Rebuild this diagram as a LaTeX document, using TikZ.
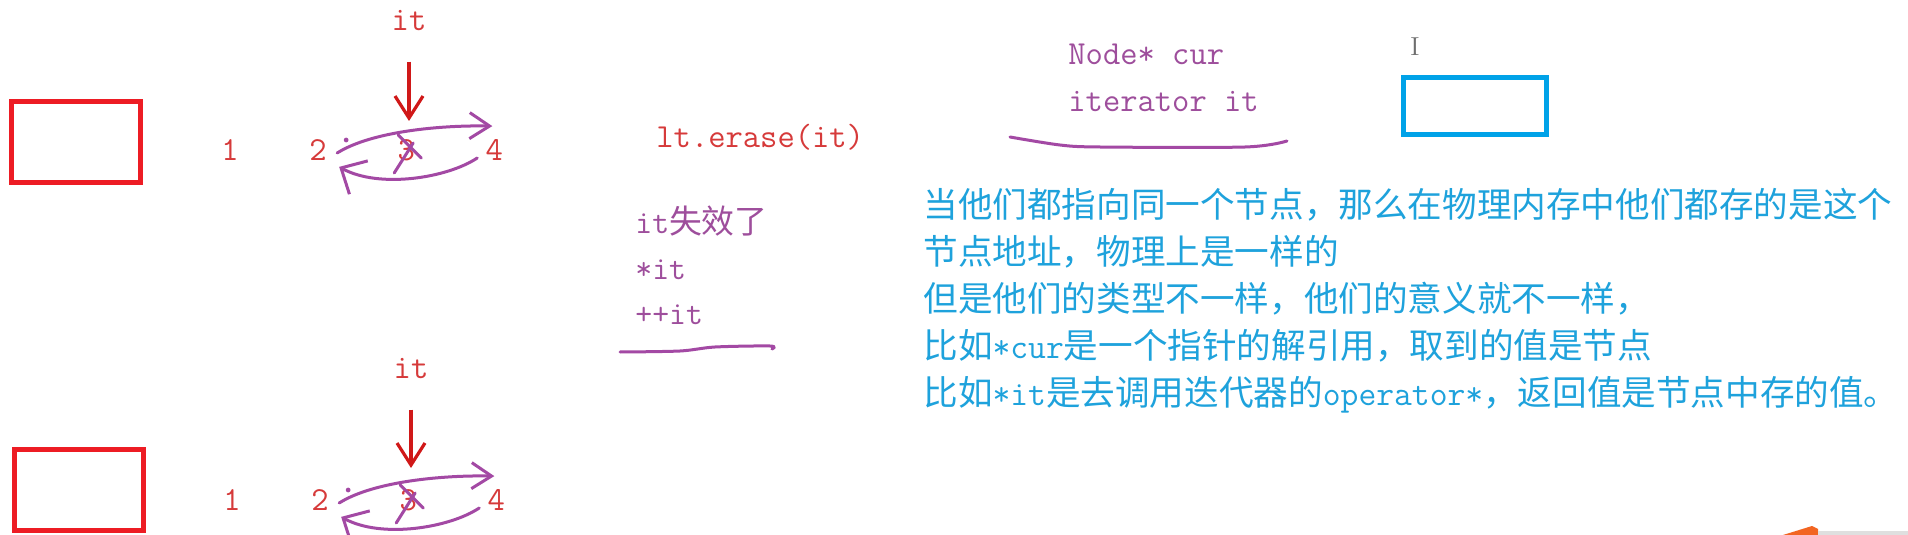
\documentclass[tikz,border=0pt]{standalone}
\usepackage{fontspec}
\newfontfamily\cjk{Noto Sans CJK SC}
\usetikzlibrary{arrows.meta, positioning, calc}
\definecolor{paintred}{HTML}{ED1C24}
\definecolor{paintblue}{HTML}{00A2E8}
\definecolor{penpurple}{HTML}{A349A4}
\definecolor{codered}{HTML}{D63A3A}
\definecolor{codepurple}{HTML}{9E4E9C}
\definecolor{noteblue}{HTML}{1EA2DC}
\definecolor{arrowred}{HTML}{D01818}
\definecolor{cursorgray}{HTML}{6E6E6E}
\definecolor{tiporange}{HTML}{F26522}

\begin{document}
\begin{tikzpicture}[
  x=0.5pt, y=-0.5pt,
  listbox/.style={
    rectangle, draw=#1, line width=2.5pt, inner sep=0pt,
    minimum width=64.5pt, minimum height=40.5pt,
  },
  listbox/.default={paintred},
  code/.style={font=\ttfamily\fontsize{16.8}{23.5}\selectfont, text=#1, inner sep=0pt, align=left},
  code/.default={codered},
  note/.style={font=\cjk\fontsize{17.3}{23.5}\selectfont, text=noteblue, inner sep=0pt, align=left},
  ptr/.style={draw=arrowred, line width=1.6pt, -{Straight Barb[length=11pt,width=14pt]}},
  jump/.style={draw=penpurple, line width=1.5pt, line cap=round, -{Straight Barb[length=10pt,width=13pt]}},
  back/.style={draw=penpurple, line width=1.5pt, line cap=round, -{Straight Barb[length=10pt,width=19pt]}},
  strike/.style={draw=penpurple, line width=1.5pt, line cap=round},
  node distance=35pt,
]

  \fill[white] (0,0) rectangle (1908,535);
  \useasboundingbox (0,0) rectangle (1908,535);

  % Upper list (it points at 3)
  \node[listbox] (headA) at (76,142) {};
  \node[code] (n1A) at (230,150) {1};
  \node[code, right=of n1A] (n2A) {2};
  \node[code, right=of n2A] (n3A) {3};
  \node[code, right=of n3A] (n4A) {4};
  \node[code] (itA) at (409,21) {it};
  \coordinate (hitA) at (409,121);
  \draw[ptr, shorten <=15pt] (itA) -- (hitA);

  \coordinate (upA0) at ($(n2A.east)+(10,3)$);
  \coordinate (upA1) at ($(n4A.north)+(-2,-13)$);
  \coordinate (dnA0) at ($(n4A.west)+(-8,8)$);
  \coordinate (dnA1) at ($(n2A.south east)+(12,6)$);
  \draw[jump] (upA0) .. controls ($(upA0)+(35,-22)$) and ($(upA1)+(-50,-1)$) .. (upA1);
  \draw[back] (dnA0) .. controls ($(dnA0)+(-30,20)$) and ($(dnA1)+(40,22)$) .. (dnA1);
  \draw[strike] ($(n3A)+(-8,-15)$) -- ($(n3A)+(15,8)$);
  \draw[strike] ($(n3A)+(7,-7)$) -- ($(n3A)+(-12,23)$);
  \fill[penpurple] ($(n2A.east)+(19,-10)$) circle (1.2pt);

  % Lower list (same picture again)
  \node[listbox] (headB) at (79,490) {};
  \node[code] (n1B) at (232,500) {1};
  \node[code, right=of n1B] (n2B) {2};
  \node[code, right=of n2B] (n3B) {3};
  \node[code, right=of n3B] (n4B) {4};
  \node[code] (itB) at (411,369) {it};
  \coordinate (hitB) at (411,468);
  \draw[ptr, shorten <=15pt] (itB) -- (hitB);

  \coordinate (upB0) at ($(n2B.east)+(10,3)$);
  \coordinate (upB1) at ($(n4B.north)+(-2,-13)$);
  \coordinate (dnB0) at ($(n4B.west)+(-8,8)$);
  \coordinate (dnB1) at ($(n2B.south east)+(12,6)$);
  \draw[jump] (upB0) .. controls ($(upB0)+(35,-22)$) and ($(upB1)+(-50,-1)$) .. (upB1);
  \draw[back] (dnB0) .. controls ($(dnB0)+(-30,20)$) and ($(dnB1)+(40,22)$) .. (dnB1);
  \draw[strike] ($(n3B)+(-8,-15)$) -- ($(n3B)+(15,8)$);
  \draw[strike] ($(n3B)+(7,-7)$) -- ($(n3B)+(-12,23)$);
  \fill[penpurple] ($(n2B.east)+(19,-10)$) circle (1.2pt);

  % erase and what breaks afterwards
  \node[code, anchor=north west] (erase) at (656,124) {lt.erase(it)};
  \node[code=codepurple, font=\cjk\fontsize{16.4}{22.6}\selectfont, anchor=north west] (invalid) at (635,206)
    {\texttt{it}失效了\\\texttt{*it}\\\texttt{++it}};
  \draw[strike] plot[smooth] coordinates {(620,352) (680,351) (715,347) (770,346) (772,349)};

  % two handles, one node
  \node[code=codepurple, anchor=north west] (handles) at (1068,44) {Node* cur\\iterator it};
  \draw[strike] plot[smooth] coordinates {(1010,137) (1060,145) (1100,147) (1245,147) (1287,141)};
  \node[text=cursorgray, font=\fontsize{13}{13}\selectfont, inner sep=0pt] (caret) at (1415,47) {I};
  \node[listbox=paintblue, minimum width=71.5pt, minimum height=28.5pt] (shared) at (1475,106) {};

  % explanation
  \node[note, anchor=north west] (why) at (923,188) {
    当他们都指向同一个节点，那么在物理内存中他们都存的是这个\\
    节点地址，物理上是一样的\\
    但是他们的类型不一样，他们的意义就不一样，\\
    比如\texttt{*cur}是一个指针的解引用，取到的值是节点\\
    比如\texttt{*it}是去调用迭代器的\texttt{operator*}，返回值是节点中存的值。
  };

  % corner of the screen
  \fill[tiporange] (1783,535) -- (1812,526) -- (1818,529) -- (1818,535) -- cycle;
  \fill[gray!25] (1818,531) rectangle (1908,535);

\end{tikzpicture}
\end{document}
